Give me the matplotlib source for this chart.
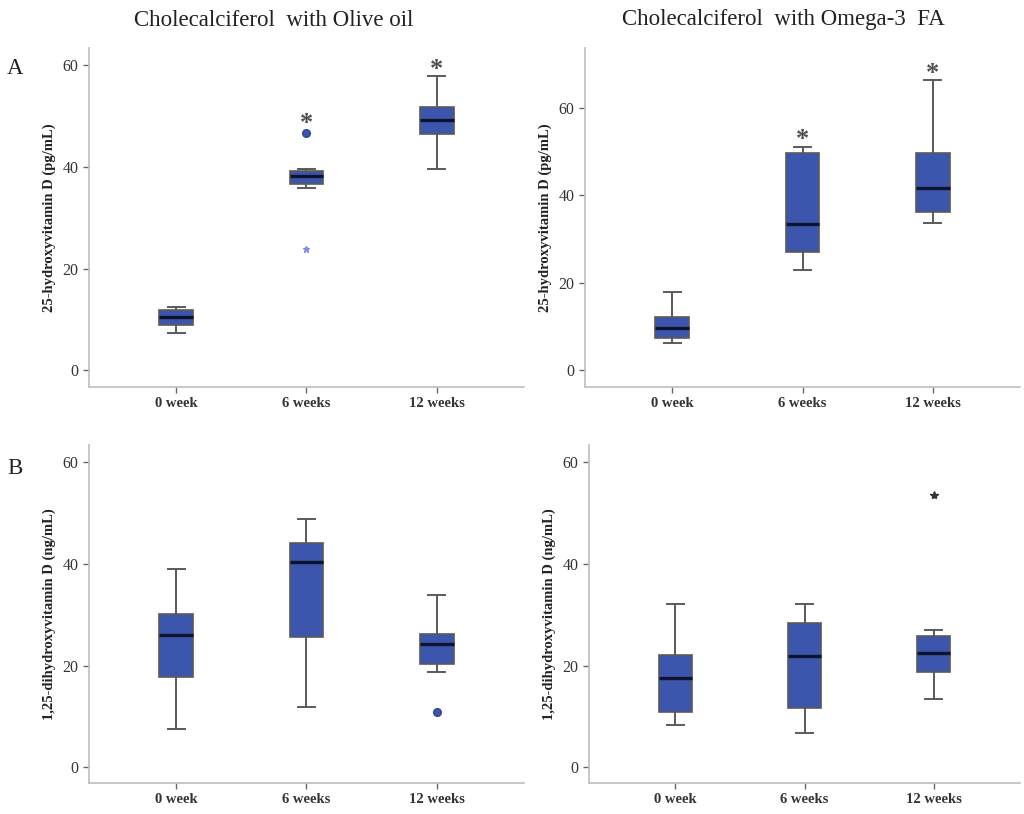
import numpy as np
import matplotlib
matplotlib.use("Agg")
import matplotlib.pyplot as plt

plt.rcParams['font.family'] = ['Liberation Serif', 'DejaVu Serif']

weeks = ['0 week', '6 weeks', '12 weeks']

# five-number summaries: whislo, q1, med, q3, whishi
olive_25 = [
    [7.4, 8.9, 10.5, 11.8, 12.5],
    [35.9, 36.6, 38.2, 39.2, 39.5],
    [39.6, 46.5, 49.2, 51.7, 57.9],
]
omega_25 = [
    [6.1, 7.2, 9.5, 12.2, 17.9],
    [22.8, 26.9, 33.3, 49.7, 51.0],
    [33.6, 36.2, 41.7, 49.7, 66.4],
]
olive_125 = [
    [7.6, 17.8, 26.0, 30.1, 39.1],
    [11.8, 25.7, 40.3, 44.1, 48.8],
    [18.8, 20.4, 24.3, 26.2, 33.8],
]
omega_125 = [
    [8.3, 10.8, 17.6, 22.0, 32.2],
    [6.7, 11.7, 21.9, 28.3, 32.2],
    [13.4, 18.8, 22.4, 25.8, 27.1],
]

# outliers: (group index, value)
olive_25_circles = [(1, 46.6)]
olive_25_stars = [(1, 23.9)]
olive_125_circles = [(2, 10.8)]
omega_125_stars = [(2, 53.6)]

# significance marks: (group index, y)
olive_25_sig = [(1, 49.5), (2, 60.2)]
omega_25_sig = [(1, 53.8), (2, 69.0)]

box_col = '#3d56ad'
edge_col = '#5a5a5a'
spine_col = '#bdbdbd'

fig = plt.figure(figsize=(10.24, 8.14), dpi=100)

axes_pos = {
    'tl': [0.0869, 0.5246, 0.4248, 0.4164],
    'tr': [0.5713, 0.5246, 0.4248, 0.4164],
    'bl': [0.0869, 0.0381, 0.4248, 0.4152],
    'br': [0.5752, 0.0381, 0.4209, 0.4152],
}


def make_stats(rows):
    out = []
    for r in rows:
        out.append(dict(whislo=r[0], q1=r[1], med=r[2], q3=r[3], whishi=r[4], fliers=[]))
    return out


def draw_panel(key, rows, ylim, ylabel, circles=(), stars=(), sig=(), star_col='#7f8fe0', star_size=5):
    ax = fig.add_axes(axes_pos[key])
    ax.bxp(make_stats(rows), positions=[0, 1, 2], widths=0.26, capwidths=0.13,
           patch_artist=True, showfliers=False,
           boxprops=dict(facecolor=box_col, edgecolor=edge_col, linewidth=1.2),
           medianprops=dict(color='#0d1430', linewidth=2.4),
           whiskerprops=dict(color=edge_col, linewidth=1.4),
           capprops=dict(color=edge_col, linewidth=1.4))
    for g, v in circles:
        ax.plot(g, v, 'o', color=box_col, markersize=5.5, markeredgecolor='#2f4390')
    for g, v in stars:
        ax.plot(g, v, '*', color=star_col, markersize=star_size)
    for g, v in sig:
        # the serif asterisk sits high in its box, so anchor a bit lower
        ax.annotate('*', (g, v), xytext=(0, -3.5), textcoords='offset points',
                    ha='center', va='center', fontsize=19, fontweight='bold', color='#505050')
    ax.set_xlim(-0.67, 2.67)
    ax.set_ylim(*ylim)
    ax.set_yticks([0, 20, 40, 60])
    ax.set_xticks([0, 1, 2])
    ax.set_xticklabels(weeks, fontweight='bold', fontsize=10.5, color='#333333')
    for lab in ax.get_yticklabels():
        lab.set_fontsize(11.5)
        lab.set_color('#333333')
    ax.set_ylabel(ylabel, fontweight='bold', fontsize=10.5, color='#222222', labelpad=5)
    for s in ['top', 'right']:
        ax.spines[s].set_visible(False)
    for s in ['left', 'bottom']:
        ax.spines[s].set_color(spine_col)
        ax.spines[s].set_linewidth(1.2)
    ax.tick_params(axis='both', color='#666666', length=4, width=1)
    return ax


draw_panel('tl', olive_25, (-3.3, 63.4), '25-hydroxyvitamin D (pg/mL)',
           circles=olive_25_circles, stars=olive_25_stars, sig=olive_25_sig)
draw_panel('tr', omega_25, (-3.9, 73.7), '25-hydroxyvitamin D (pg/mL)',
           sig=omega_25_sig)
draw_panel('bl', olive_125, (-3.1, 63.4), '1,25-dihydroxyvitamin D (ng/mL)',
           circles=olive_125_circles)
draw_panel('br', omega_125, (-3.1, 63.4), '1,25-dihydroxyvitamin D (ng/mL)',
           stars=omega_125_stars, star_col='#333333', star_size=6)

fig.text(274 / 1024, 1 - 20 / 814, 'Cholecalciferol  with Olive oil', ha='center', va='center',
         fontsize=16.5, color='#222222')
fig.text(783 / 1024, 1 - 20 / 814, 'Cholecalciferol  with Omega-3  FA', ha='center', va='center',
         fontsize=16.5, color='#222222')
fig.text(15 / 1024, 1 - 68 / 814, 'A', ha='center', va='center', fontsize=16.5, color='#222222')
fig.text(15 / 1024, 1 - 468 / 814, 'B', ha='center', va='center', fontsize=16.5, color='#222222')

fig.savefig('out.png', dpi=100)
